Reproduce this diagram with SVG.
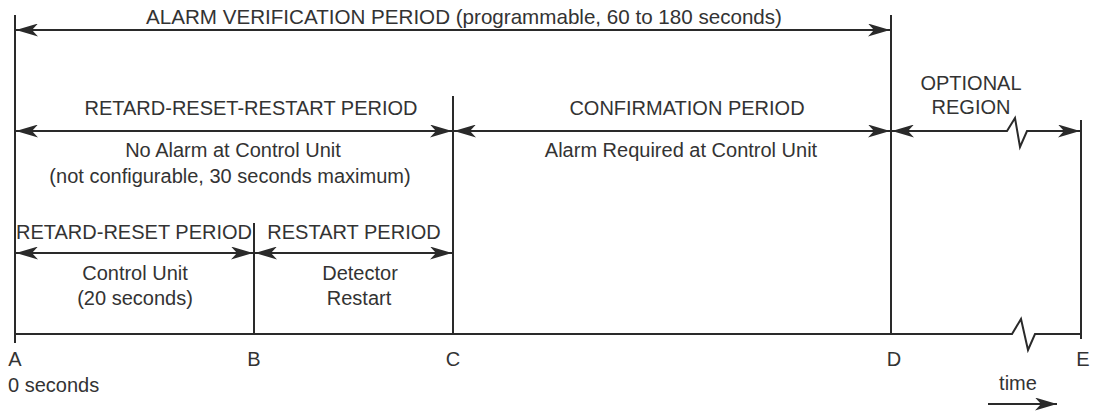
<svg xmlns="http://www.w3.org/2000/svg" width="1099" height="412" viewBox="0 0 1099 412">
<style>
.t{font-family:"Liberation Sans",Arial,sans-serif;font-size:20px;fill:#333}
.m{text-anchor:middle}
.ln{stroke:#2a2a2a;stroke-width:2;fill:none}
.ar{stroke:#2a2a2a;stroke-width:2;fill:none;marker-start:url(#ah);marker-end:url(#ah)}
</style>
<defs>
<marker id="ah" viewBox="0 0 22 13" refX="22" refY="6.5" markerWidth="22" markerHeight="13" markerUnits="userSpaceOnUse" orient="auto-start-reverse">
<path d="M0,0 L22,6.5 L0,13 L6,6.5 Z" fill="#2a2a2a"/>
</marker>
<marker id="ae" viewBox="0 0 22 13" refX="22" refY="6.5" markerWidth="22" markerHeight="13" markerUnits="userSpaceOnUse" orient="auto">
<path d="M0,0 L22,6.5 L0,13 L6,6.5 Z" fill="#2a2a2a"/>
</marker>
</defs>
<rect width="1099" height="412" fill="#fff"/>
<g id="timeline">
<path class="ln" d="M15,334 L1012,334 L1021,319 L1028,350 L1035,334 L1081,334"/>
</g>
<g id="marker-A"><line class="ln" x1="15" y1="15" x2="15" y2="343"/><text class="t m" x="15" y="366">A</text><text class="t" x="8" y="392">0 seconds</text></g>
<g id="marker-B"><line class="ln" x1="254" y1="223" x2="254" y2="334"/><text class="t m" x="254" y="366">B</text></g>
<g id="marker-C"><line class="ln" x1="453" y1="96" x2="453" y2="334"/><text class="t m" x="453" y="366">C</text></g>
<g id="marker-D"><line class="ln" x1="891" y1="15" x2="891" y2="334"/><text class="t m" x="894" y="366">D</text></g>
<g id="marker-E"><line class="ln" x1="1081" y1="120" x2="1081" y2="339"/><text class="t m" x="1083" y="366">E</text></g>
<g id="connectors">
<line class="ar" x1="16" y1="30" x2="890" y2="30"/>
<line class="ar" x1="16" y1="131" x2="452" y2="131"/>
<line class="ar" x1="454" y1="131" x2="890" y2="131"/>
<path class="ar" d="M892,131 L1007,131 L1015,118 L1020,147 L1027,131 L1080,131"/>
<line class="ar" x1="16" y1="253" x2="253" y2="253"/>
<line class="ar" x1="255" y1="253" x2="452" y2="253"/>
<line class="ln" x1="988" y1="404" x2="1057" y2="404" style="marker-end:url(#ae)"/>
</g>
<g id="alarm-verification"><text class="t m" x="464" y="24" style="font-size:20.6px">ALARM VERIFICATION PERIOD (programmable, 60 to 180 seconds)</text></g>
<g id="retard-reset-restart"><text class="t m" x="251" y="115">RETARD-RESET-RESTART PERIOD</text><text class="t m" x="233" y="157">No Alarm at Control Unit</text><text class="t m" x="230" y="183">(not configurable, 30 seconds maximum)</text></g>
<g id="confirmation"><text class="t m" x="687" y="115">CONFIRMATION PERIOD</text><text class="t m" x="681" y="157">Alarm Required at Control Unit</text></g>
<g id="optional"><text class="t m" x="971" y="90">OPTIONAL</text><text class="t m" x="971" y="114">REGION</text></g>
<g id="retard-reset"><text class="t m" x="134" y="239">RETARD-RESET PERIOD</text><text class="t m" x="135" y="280">Control Unit</text><text class="t m" x="135" y="305">(20 seconds)</text></g>
<g id="restart"><text class="t m" x="354" y="239">RESTART PERIOD</text><text class="t m" x="360" y="280">Detector</text><text class="t m" x="359" y="305">Restart</text></g>
<g id="time-label"><text class="t m" x="1018" y="390">time</text></g>
</svg>
